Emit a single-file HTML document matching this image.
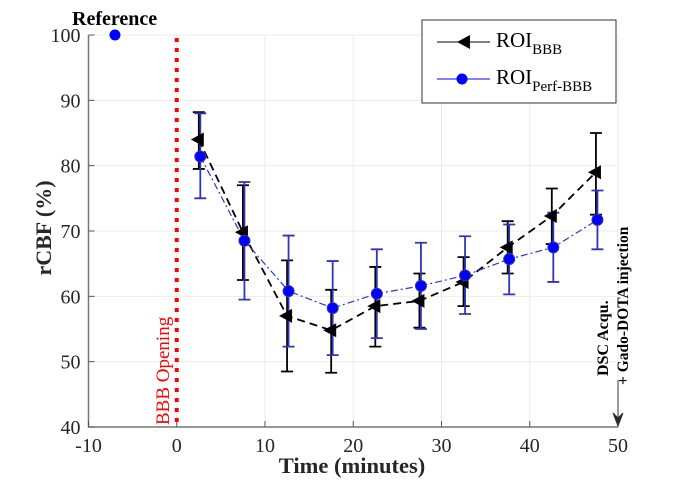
<!DOCTYPE html>
<html><head><meta charset="utf-8"><style>
body{margin:0;background:#fff}
svg text{font-family:"Liberation Serif",serif}
</style></head><body>
<svg id="c" width="680" height="480" xmlns="http://www.w3.org/2000/svg"></svg>
<script>
const times=[2.5,7.5,12.5,17.5,22.5,27.5,32.5,37.5,42.5,47.5];
const bbbMean=[84,69.8,57,54.8,58.5,59.3,62.2,67.5,72.3,79];
const bbbLo=[79.5,62.5,48.5,48.3,52.3,55.2,58.5,63.5,68,72.5];
const bbbHi=[88.2,77,65.5,61,64.5,63.5,66,71.5,76.5,85];
const perfMean=[81.4,68.5,60.8,58.2,60.4,61.6,63.2,65.7,67.5,71.7];
const perfLo=[75,59.5,52.3,51,53.6,55,57.3,60.3,62.2,67.2];
const perfHi=[88,77.5,69.3,65.4,67.2,68.2,69.2,71,72.8,76.2];
const refX=[-7], refY=[100];
const xTicks=[-10,0,10,20,30,40,50];
const yTicks=[40,50,60,70,80,90,100];

const L=88.5,R=618,T=35,B=427,x0=-10,x1=50,y0=40,y1=100;
const X=v=>L+(v-x0)/(x1-x0)*(R-L);
const Y=v=>B-(v-y0)/(y1-y0)*(B-T);
const svg=document.getElementById('c');
const NS='http://www.w3.org/2000/svg';
function el(t,a,p){const e=document.createElementNS(NS,t);for(const k in a)e.setAttribute(k,a[k]);(p||svg).appendChild(e);return e;}

xTicks.forEach(v=>{
const g=el('line',{x1:X(v),x2:X(v),y1:T,y2:B,stroke:'#ebebeb','stroke-width':1});


});
yTicks.forEach(v=>{
const g=el('line',{x1:L,x2:R,y1:Y(v),y2:Y(v),stroke:'#ebebeb','stroke-width':1});


});
const ax=el('path',{d:`M${L},${T} V${B} H${R}`,fill:'none',stroke:'#777','stroke-width':1.5});


xTicks.forEach(v=>{
el('line',{x1:X(v),x2:X(v),y1:B,y2:B-6,stroke:'#555'});
const t=el('text',{x:X(v),y:B+25,'text-anchor':'middle','font-size':20,fill:'#262626'});t.textContent=v;


});
yTicks.forEach(v=>{
el('line',{x1:L,x2:L+6,y1:Y(v),y2:Y(v),stroke:'#555'});
const t=el('text',{x:L-8,y:Y(v)+7,'text-anchor':'end','font-size':20,fill:'#262626'});t.textContent=v;


});
let t=el('text',{x:352,y:473,'text-anchor':'middle','font-size':22.5,'font-weight':'bold',fill:'#262626'});t.textContent='Time (minutes)';


t=el('text',{transform:'translate(51,228) rotate(-90)','text-anchor':'middle','font-size':22,'font-weight':'bold',fill:'#262626'});t.textContent='rCBF (%)';



const rl=el('line',{x1:X(0),x2:X(0),y1:T+3,y2:B,stroke:'#ff0000','stroke-width':4,'stroke-dasharray':'4 6'});


t=el('text',{transform:`translate(${X(0)-8},${B-2}) rotate(-90)`,'font-size':19,fill:'#ff0000'});t.textContent='BBB Opening';



function errbars(xs,lo,hi,col,dx,nm){
xs.forEach((v,i)=>{
const x=X(v)+dx,a=Y(lo[i]),b=Y(hi[i]);
const p=el('path',{d:`M${x},${a}V${b}M${x-6},${a}H${x+6}M${x-6},${b}H${x+6}`,stroke:col,'stroke-width':1.8,fill:'none'});


});
}
errbars(times,bbbLo,bbbHi,'#000',0,'bbb-error-bar');
errbars(times,perfLo,perfHi,'#3333bb',1.5,'perf-error-bar');

let pl=el('polyline',{points:times.map((v,i)=>`${X(v)},${Y(bbbMean[i])}`).join(' '),fill:'none',stroke:'#000','stroke-width':1.8,'stroke-dasharray':'8 5'});


pl=el('polyline',{points:times.map((v,i)=>`${X(v)+1.5},${Y(perfMean[i])}`).join(' '),fill:'none',stroke:'#3333cc','stroke-width':1.2,'stroke-dasharray':'7 3 2 3'});



times.forEach((v,i)=>{
const x=X(v),y=Y(bbbMean[i]);
const m=el('path',{d:`M${x-8},${y}L${x+5},${y-7}L${x+5},${y+7}Z`,fill:'#000'});


});
times.forEach((v,i)=>{
const c=el('circle',{cx:X(v)+1.5,cy:Y(perfMean[i]),r:5.5,fill:'#0000ff',stroke:'#3333aa'});


});
refX.forEach((v,i)=>{
const c=el('circle',{cx:X(v),cy:Y(refY[i]),r:5.5,fill:'#0000ff'});


});
t=el('text',{x:72,y:25,'font-size':20,'font-weight':'bold',fill:'#000'});t.textContent='Reference';



const ar=el('path',{d:`M${R},380V425M${R-5},413L${R},426L${R+5},413L${R},418Z`,stroke:'#333','stroke-width':1,fill:'#222'});


t=el('text',{transform:`translate(608,376) rotate(-90)`,'font-size':16,'font-weight':'bold',fill:'#000'});t.textContent='DSC Acqu.';


t=el('text',{transform:`translate(628,385) rotate(-90)`,'font-size':15.5,'font-weight':'bold',fill:'#000'});t.textContent='+ Gado-DOTA injection';



const lg=el('g',{});


el('rect',{x:422,y:20,width:194,height:83,fill:'#fff',stroke:'#333','stroke-width':1},lg);
el('line',{x1:437,x2:490,y1:42,y2:42,stroke:'#000'},lg);
el('path',{d:'M457,42L470,35L470,49Z',fill:'#000'},lg);
t=el('text',{x:496,y:47,'font-size':21,fill:'#000'},lg);t.innerHTML='ROI<tspan font-size="15" dy="7">BBB</tspan>';


el('line',{x1:437,x2:490,y1:79,y2:79,stroke:'#0000ff'},lg);
el('circle',{cx:462,cy:79,r:5.5,fill:'#0000ff'},lg);
t=el('text',{x:496,y:84,'font-size':21,fill:'#000'},lg);t.innerHTML='ROI<tspan font-size="15" dy="7">Perf-BBB</tspan>';


</script>
</body></html>
